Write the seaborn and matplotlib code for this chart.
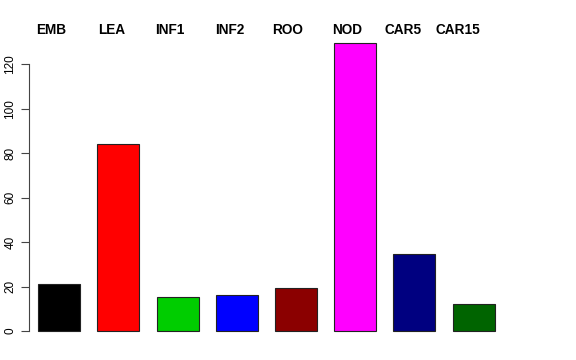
import matplotlib
matplotlib.use("Agg")
import matplotlib.pyplot as plt
import matplotlib.transforms as mtransforms
import seaborn as sns
import pandas as pd

# bar values
tissues = ["EMB", "LEA", "INF1", "INF2", "ROO", "NOD", "CAR5", "CAR15"]
counts = [21.0, 84.0, 15.4, 16.3, 19.2, 129.5, 34.8, 12.0]
bar_colors = ["#000000", "#FF0000", "#00CD00", "#0000FF",
              "#8B0000", "#FF00FF", "#000080", "#006400"]
y_ticks = [0, 20, 40, 60, 80, 100, 120]

df = pd.DataFrame({"tissue": tissues, "count": counts})

sns.set_style("white")
plt.rcParams["font.family"] = ["Liberation Sans", "DejaVu Sans"]
plt.rcParams["text.color"] = "black"
plt.rcParams["ytick.color"] = "black"

fig = plt.figure(figsize=(5.76, 3.6), dpi=100)
ax = fig.add_axes([29 / 576, 25 / 360, 531 / 576, 295 / 360])

sns.barplot(data=df, x="tissue", y="count", hue="tissue", order=tissues,
            palette=bar_colors, saturation=1, legend=False, width=0.709,
            edgecolor="#222222", linewidth=0.8, ax=ax)

ax.set_xlim(-0.51, 8.46)
ax.set_ylim(-1.8, 130.96)
ax.set_xlabel("")
ax.set_ylabel("")
ax.set_xticks([])
ax.set_yticks(y_ticks)
ax.set_yticklabels([str(t) for t in y_ticks], rotation=90, va="center", fontsize=8.5)
ax.tick_params(axis="y", left=True, length=5.5, width=0.8, color="#444444", pad=3.5)

for side in ["top", "right", "bottom"]:
    ax.spines[side].set_visible(False)
ax.spines["left"].set_bounds(0, 120)
ax.spines["left"].set_color("#444444")
ax.spines["left"].set_linewidth(0.8)

# labels along the top, right-aligned near each bar center
trans = mtransforms.blended_transform_factory(ax.transData, fig.transFigure)
for i, name in enumerate(tissues):
    ax.text(i + 0.12, 1 - 30.3 / 360, name, transform=trans, ha="right", va="center",
            fontsize=9.8, fontweight="bold", color="black")

fig.savefig("out.png", dpi=100)
